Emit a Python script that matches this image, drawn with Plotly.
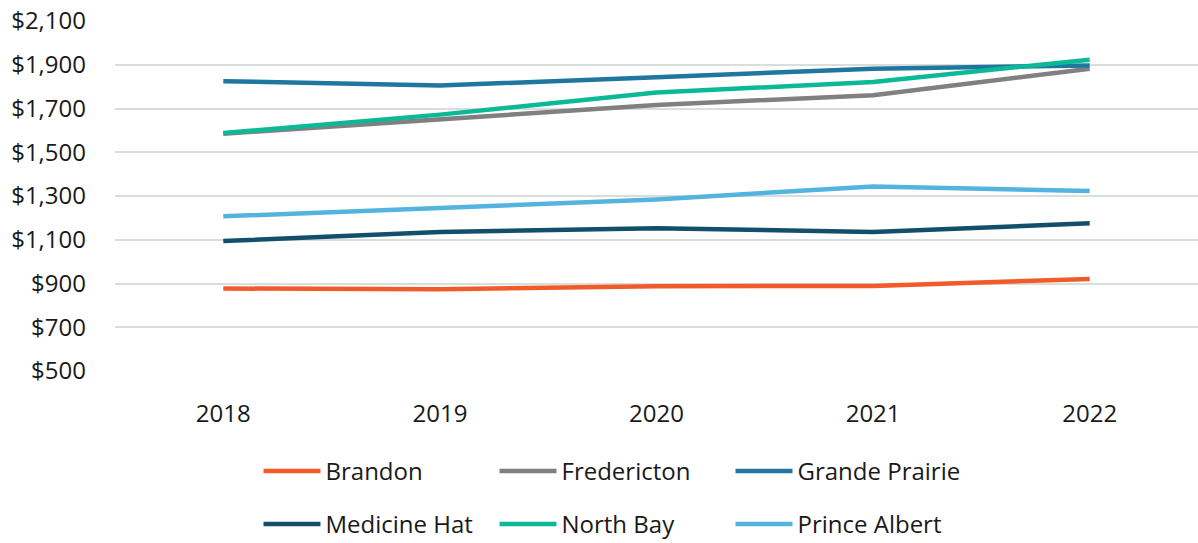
import plotly.graph_objects as go

years = ["2018", "2019", "2020", "2021", "2022"]

brandon = [877, 874, 888, 889, 921]
fredericton = [1585, 1650, 1716, 1761, 1882]
grande_prairie = [1825, 1805, 1843, 1882, 1897]
medicine_hat = [1094, 1135, 1153, 1135, 1175]
north_bay = [1588, 1672, 1773, 1821, 1923]
prince_albert = [1207, 1244, 1284, 1344, 1323]

y_ticks = [500, 700, 900, 1100, 1300, 1500, 1700, 1900, 2100]
y_tick_labels = ["$500", "$700", "$900", "$1,100", "$1,300", "$1,500", "$1,700", "$1,900", "$2,100"]

series = [
    ("Brandon", brandon, "#F15A29", "legend"),
    ("Fredericton", fredericton, "#808080", "legend"),
    ("Grande Prairie", grande_prairie, "#1F77A0", "legend"),
    ("Medicine Hat", medicine_hat, "#134F6B", "legend2"),
    ("North Bay", north_bay, "#0CB997", "legend2"),
    ("Prince Albert", prince_albert, "#53B4E0", "legend2"),
]

FONT = "Open Sans"
TEXT = "#1a1a1a"
SIZE = 24

fig = go.Figure()
for name, vals, color, leg in series:
    fig.add_trace(go.Scatter(
        x=years, y=vals, name=name, mode="lines",
        line=dict(color=color, width=4.5),
        legend=leg,
    ))

legend_common = dict(
    orientation="h",
    font=dict(family=FONT, size=SIZE, color=TEXT),
    entrywidth=164, entrywidthmode="pixels",
    itemwidth=57,
    bgcolor="rgba(0,0,0,0)",
    xanchor="left", yanchor="middle",
    traceorder="normal",
)

fig.update_layout(
    width=1198, height=543,
    margin=dict(l=115, r=0, t=21, b=171.5, autoexpand=False),
    paper_bgcolor="white", plot_bgcolor="white",
    font=dict(family=FONT, size=SIZE, color=TEXT),
    showlegend=True,
    legend=dict(**legend_common, x=0.1325, y=-0.287),
    legend2=dict(**legend_common, x=0.1325, y=-0.438),
    xaxis=dict(
        type="category", range=[-0.5, 4.5],
        showgrid=False, zeroline=False, showline=False,
        ticks="", ticklabelstandoff=26,
        tickfont=dict(family=FONT, size=SIZE, color=TEXT),
    ),
    yaxis=dict(
        range=[500, 2100], tickvals=y_ticks, ticktext=y_tick_labels,
        showgrid=True, gridcolor="#D9DEDC", gridwidth=1.5,
        zeroline=False, showline=False, ticks="",
        ticklabelstandoff=28,
        tickfont=dict(family=FONT, size=SIZE, color=TEXT),
    ),
)

fig.write_html("out.html")
